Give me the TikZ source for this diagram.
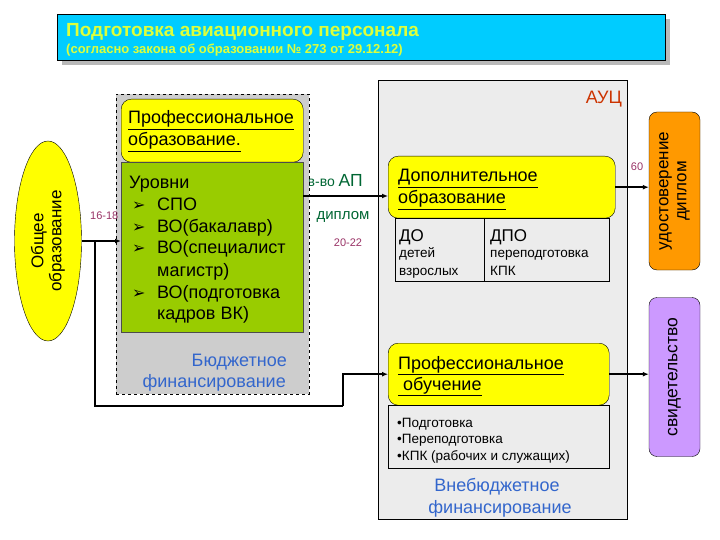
\documentclass[tikz,border=0pt]{standalone}
\usepackage{fontspec}
\setmainfont{Liberation Sans}
\newfontfamily\dejavu{DejaVu Sans}
\usetikzlibrary{arrows.meta,shapes.geometric}
\definecolor{titlecyan}{RGB}{0,204,255}
\definecolor{titleyel}{RGB}{220,255,60}
\definecolor{boxyel}{RGB}{255,255,0}
\definecolor{levgreen}{RGB}{153,204,0}
\definecolor{orangebox}{RGB}{255,153,0}
\definecolor{purplebox}{RGB}{204,153,255}
\definecolor{fintxt}{RGB}{51,102,204}
\definecolor{numtxt}{RGB}{153,51,102}
\definecolor{dgreen}{RGB}{0,102,51}
\definecolor{auctxt}{RGB}{204,51,0}
\definecolor{aucfill}{RGB}{236,236,236}
\definecolor{budfill}{RGB}{205,205,205}
\newcommand\fs[2]{\fontsize{#1}{#2}\selectfont}
\newcommand\blt{\makebox[28pt][l]{\hspace{3pt}{\dejavu\fs{16}{18}➢}}}
\begin{document}
\begin{tikzpicture}[x=1pt,y=-1pt,
  conn/.style={line width=2.2pt,-{Latex[length=6pt,width=5pt]}},
  plain/.style={line width=2.2pt},
  ybox/.style={draw=black,fill=boxyel,rounded corners=10pt,inner sep=0},
  sbox/.style={draw=black,rounded corners=8pt,inner sep=0},
  txt/.style={inner sep=0,anchor=base west},
  big/.style={font=\fs{18}{20}},
  small/.style={font=\fs{13.5}{15}}]
\useasboundingbox (0,0) rectangle (720,540);
% title
\fill[gray!55] (62,19) rectangle (670,65);
\node[draw=black,fill=titlecyan,minimum width=608pt,minimum height=46pt,inner sep=0,anchor=north west] (title) at (57,14) {};
\node[txt,text=titleyel,font=\bfseries\fs{19}{21}] (t1) at (66,37) {Подготовка авиационного персонала};
\node[txt,text=titleyel,font=\bfseries\fs{13}{15}] (t2) at (66,54) {(согласно закона об образовании № 273 от 29.12.12)};
% AUC box
\node[draw=black,fill=aucfill,minimum width=249pt,minimum height=439pt,inner sep=0,anchor=north west] (auc) at (378,80) {};
\node[inner sep=0,anchor=base east,text=auctxt,font=\fs{18}{20}] (auct) at (622,104) {АУЦ};
% sv-vo AP label (partly hidden)
\node[inner sep=0,anchor=base east,text=dgreen] (svvo) at (363,187) {{\fs{14}{16}св-во }{\fs{17.5}{19}АП}};
% budget dashed box
\node[draw=black,dashed,fill=budfill,minimum width=193pt,minimum height=300pt,inner sep=0,anchor=north west] (bud) at (116,94) {};
\node[ybox,minimum width=182pt,minimum height=63pt,anchor=north west] (prof) at (121,99) {};
\node[txt,big] (proft1) at (128,124) {\underline{Профессиональное}};
\node[txt,big] (proft2) at (128,146) {\underline{образование.}};
\node[draw=black!70,fill=levgreen,minimum width=182pt,minimum height=170pt,inner sep=0,anchor=north west] (lev) at (121,162) {};
\node[txt,big] (l1) at (129,189) {Уровни};
\node[txt,big] (l2) at (129,211) {\blt СПО};
\node[txt,big] (l3) at (129,233) {\blt ВО(бакалавр)};
\node[txt,big] (l4) at (129,254) {\blt ВО(специалист};
\node[txt,big] (l5) at (157,276) {магистр)};
\node[txt,big] (l6) at (129,298) {\blt ВО(подготовка};
\node[txt,big] (l7) at (157,319) {кадров ВК)};
\node[inner sep=0,anchor=base east,text=fintxt,big] (bf1) at (287,366) {Бюджетное};
\node[inner sep=0,anchor=base east,text=fintxt,big] (bf2) at (286,387) {финансирование};
% general education ellipse
\node[ellipse,draw=black,fill=boxyel,minimum width=67pt,minimum height=200pt,inner sep=0] (gen) at (48,241) {};
\node[rotate=90,align=center,font=\fs{17}{18}] (gent) at (gen.center) {Общее\\образование};
\node[txt,text=numtxt,font=\fs{11}{13}] (n1618) at (90,219) {16-18};
% labels between
\node[inner sep=0,text=dgreen,font=\fs{15}{17}] (dipl) at (343,217) {диплом};
\node[inner sep=0,text=numtxt,font=\fs{11}{13}] (n2022) at (348,243) {20-22};
\node[inner sep=0,text=numtxt,font=\fs{11}{13}] (n60) at (637,167) {60};
% additional education
\node[ybox,minimum width=227pt,minimum height=62pt,anchor=north west] (dop) at (388,156) {};
\node[txt,big] (dopt1) at (398,182) {\underline{Дополнительное}};
\node[txt,big] (dopt2) at (398,204) {\underline{образование}};
\draw[black] (395,218) rectangle (609,281);
\draw[black] (484,218) -- (484,281);
\node[txt,font=\fs{17}{19}] (do) at (399,241) {ДО};
\node[txt,small] (do1) at (399,258) {детей};
\node[txt,small] (do2) at (399,275) {взрослых};
\node[txt,font=\fs{17}{19}] (dpo) at (490,241) {ДПО};
\node[txt,small] (dpo1) at (490,258) {переподготовка};
\node[txt,small] (dpo2) at (490,275) {КПК};
% professional training
\node[ybox,minimum width=221pt,minimum height=62pt,anchor=north west] (prob) at (388,343) {};
\node[txt,big] (probt1) at (398,369) {\underline{Профессиональное}};
\node[txt,big] (probt2) at (398,390) {\underline{\ обучение}};
\draw[black] (388,405) rectangle (609,468);
\node[txt,small] (pl1) at (397,427) {•Подготовка};
\node[txt,small] (pl2) at (397,443) {•Переподготовка};
\node[txt,small] (pl3) at (397,460) {•КПК (рабочих и служащих)};
\node[inner sep=0,anchor=base,text=fintxt,big] (vf1) at (497,491) {Внебюджетное};
\node[inner sep=0,anchor=base,text=fintxt,big] (vf2) at (500,513) {финансирование};
% side boxes
\node[sbox,fill=orangebox,minimum width=51pt,minimum height=158pt] (ud) at (674.5,191) {};
\node[rotate=90,align=center,font=\fs{17}{18}] (udt) at (ud.center) {удостоверение\\диплом};
\node[sbox,fill=purplebox,minimum width=51pt,minimum height=159pt] (sv) at (674.5,377) {};
\node[rotate=90,font=\fs{17.5}{18}] (svt) at (sv.center) {свидетельство};
% connectors
\coordinate (br) at (95,241);
\coordinate (jn) at (343,406);
\draw[conn] (gen.east) -- (lev.west |- gen.east);
\draw[plain] (br) |- (jn);
\draw[conn] (jn) |- (prob.west);
\draw[conn] (lev.east |- 0,196) -- (dop.west |- 0,196);
\draw[conn] (dop.east) -- (ud.west |- dop.east);
\draw[conn] (prob.east) -- (sv.west |- prob.east);
\end{tikzpicture}
\end{document}
